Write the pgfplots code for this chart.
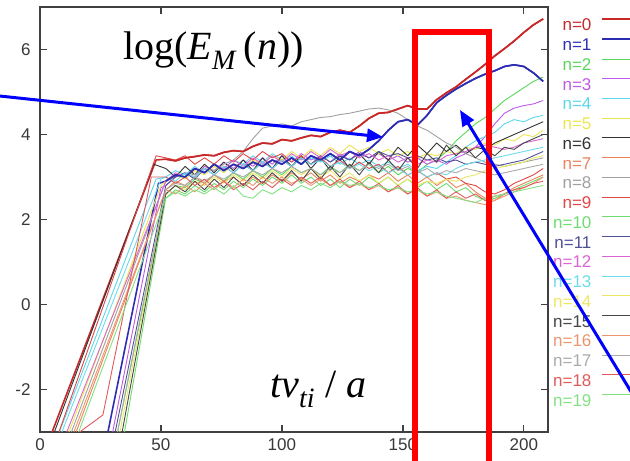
\documentclass[border=0pt]{standalone}
\usepackage{pgfplots}
\pgfplotsset{compat=1.18}
\usepackage{pgfplotstable}
\usepackage{fontspec}
\setmainfont{Liberation Sans}
\newfontfamily\tnr{Liberation Serif}
\usetikzlibrary{arrows.meta}
\definecolor{c0}{RGB}{200,40,40}
\definecolor{c1}{RGB}{45,45,180}
\definecolor{c2}{RGB}{90,215,90}
\definecolor{c3}{RGB}{190,90,230}
\definecolor{c4}{RGB}{90,215,235}
\definecolor{c5}{RGB}{235,230,80}
\definecolor{c6}{RGB}{50,50,50}
\definecolor{c7}{RGB}{235,130,90}
\definecolor{c8}{RGB}{160,160,160}
\definecolor{c9}{RGB}{225,70,70}
\definecolor{c10}{RGB}{110,220,110}
\definecolor{c11}{RGB}{80,80,150}
\definecolor{c12}{RGB}{220,100,210}
\definecolor{c13}{RGB}{110,220,235}
\definecolor{c14}{RGB}{235,230,100}
\definecolor{c15}{RGB}{70,70,70}
\definecolor{c16}{RGB}{235,150,110}
\definecolor{c17}{RGB}{170,170,170}
\definecolor{c18}{RGB}{225,90,90}
\definecolor{c19}{RGB}{130,225,130}
\pgfplotstableread{
x n0 n1 n2 n3 n4 n5 n6 n7 n8 n9 n10 n11 n12 n13 n14 n15 n16 n17 n18 n19
52 3.42 2.9 2.6 2.8 3.0 2.9 3.2 2.7 2.9 3.45 2.5 2.8 2.9 3.0 2.6 2.6 2.7 2.7 3.0 2.5
56 3.38 3.05 2.8 3.0 3.15 3.05 3.0 2.9 3.0 3.4 2.7 3.0 3.1 2.9 2.8 2.8 2.6 2.85 2.85 2.65
60 3.45 3.0 2.75 3.1 3.05 2.95 3.25 2.8 3.1 3.5 2.6 3.1 3.0 3.1 2.7 2.65 2.8 2.8 3.0 2.55
64 3.48 3.2 2.95 3.0 3.25 3.15 3.05 3.0 3.05 3.3 2.8 2.95 3.2 3.0 2.9 2.9 2.65 3.0 2.8 2.7
68 3.52 3.1 2.85 3.25 3.1 3.05 3.3 2.85 3.2 3.45 2.65 3.2 3.1 3.2 2.8 2.7 2.85 2.9 2.95 2.6
72 3.5 3.3 3.05 3.15 3.3 3.25 3.1 3.05 3.15 3.3 2.85 3.05 3.3 3.05 3.0 2.95 2.7 3.05 2.75 2.75
76 3.58 3.15 2.9 3.35 3.2 3.1 3.35 2.9 3.3 3.5 2.7 3.25 3.2 3.25 2.85 2.75 2.9 2.95 2.9 2.6
80 3.62 3.3 3.1 3.2 3.4 3.3 3.15 3.0 3.4 3.35 2.9 3.1 3.4 3.1 3.05 3.0 2.75 3.1 2.7 2.8
84 3.6 3.2 2.95 3.4 3.3 3.2 3.4 2.8 3.6 3.55 2.75 3.3 3.25 3.3 2.9 2.8 2.95 3.0 2.85 2.55
88 3.72 3.35 3.15 3.25 3.5 3.4 3.15 3.0 3.9 3.4 2.95 3.15 3.45 3.15 3.1 3.05 2.8 3.15 2.7 2.5
92 3.8 3.25 3.0 3.45 3.35 3.3 3.45 2.85 4.15 3.6 2.8 3.35 3.3 3.35 2.95 2.85 3.0 3.05 2.9 2.7
96 3.78 3.4 3.2 3.3 3.55 3.5 3.2 3.05 4.2 3.45 3.0 3.2 3.5 3.2 3.15 3.1 2.85 3.2 2.75 2.6
100 3.88 3.3 3.05 3.5 3.4 3.4 3.5 2.9 4.25 3.55 2.85 3.4 3.35 3.4 3.0 2.9 3.0 3.1 2.95 2.75
104 3.85 3.45 3.25 3.35 3.5 3.6 3.25 3.1 4.2 3.35 3.05 3.25 3.55 3.25 3.2 3.15 2.85 3.25 2.8 2.65
108 3.92 3.3 3.1 3.55 3.3 3.45 3.5 2.95 4.3 3.5 2.85 3.45 3.4 3.45 3.05 2.9 2.95 3.1 3.0 2.8
112 3.98 3.5 3.2 3.4 3.45 3.65 3.2 3.1 4.35 3.3 3.0 3.3 3.6 3.3 3.2 3.2 2.8 3.2 2.85 2.7
116 3.95 3.4 3.05 3.5 3.35 3.5 3.45 2.9 4.4 3.45 2.8 3.5 3.45 3.4 3.0 2.95 2.95 3.05 3.0 2.85
120 4.05 3.55 3.25 3.35 3.5 3.7 3.15 3.05 4.42 3.25 2.95 3.35 3.65 3.25 3.15 3.25 2.8 3.2 2.8 2.75
124 4.1 3.4 3.1 3.55 3.3 3.55 3.5 2.85 4.47 3.4 2.75 3.5 3.5 3.35 2.95 3.0 2.9 3.1 2.95 2.9
128 4.05 3.6 3.3 3.4 3.45 3.75 3.2 3.0 4.5 3.2 2.95 3.4 3.6 3.2 3.1 3.3 2.75 3.25 2.75 2.8
132 4.2 3.5 3.15 3.6 3.3 3.6 3.55 2.9 4.55 3.35 2.8 3.55 3.45 3.3 2.9 3.05 2.85 3.15 2.9 2.85
136 4.38 3.65 3.3 3.45 3.4 3.7 3.3 3.05 4.6 3.2 3.0 3.45 3.55 3.15 3.05 3.35 2.7 3.3 2.7 2.75
140 4.5 3.85 3.1 3.55 3.25 3.55 3.6 2.95 4.62 3.3 2.85 3.6 3.4 3.25 2.85 3.1 2.8 3.2 2.85 2.8
144 4.52 4.1 3.25 3.4 3.35 3.65 3.4 3.1 4.58 3.1 3.0 3.5 3.5 3.1 3.0 3.4 2.65 3.3 2.65 2.7
148 4.6 4.3 3.05 3.5 3.2 3.5 3.7 2.9 4.5 3.25 2.8 3.55 3.35 3.2 2.8 3.15 2.75 3.15 2.8 2.75
152 4.68 4.35 3.2 3.35 3.3 3.6 3.5 3.05 4.35 3.05 2.95 3.45 3.45 3.05 2.95 3.45 2.6 3.25 2.6 2.65
156 4.6 4.22 3.1 3.45 3.15 3.45 3.75 2.85 4.2 3.15 2.75 3.5 3.3 3.15 2.8 3.2 2.7 3.1 2.75 2.7
160 4.6 4.45 3.3 3.3 3.25 3.55 3.55 3.0 4.1 3.0 2.9 3.4 3.4 3.0 2.9 3.55 2.55 3.2 2.55 2.6
164 4.82 4.75 3.4 3.4 3.2 3.5 3.8 2.8 3.95 3.1 2.7 3.45 3.35 3.1 2.85 3.35 2.65 3.05 2.7 2.65
168 4.98 4.92 3.6 3.3 3.35 3.6 3.6 2.95 3.8 2.95 2.85 3.35 3.5 3.05 2.95 3.75 2.5 3.15 2.5 2.55
172 5.12 5.07 3.85 3.45 3.5 3.55 3.75 2.75 3.7 3.0 2.65 3.4 3.55 3.2 2.9 3.5 2.55 3.1 2.65 2.5
176 5.3 5.2 4.05 3.55 3.7 3.7 3.55 2.85 3.55 2.85 2.75 3.3 3.6 3.3 3.0 3.7 2.45 3.2 2.5 2.45
180 5.47 5.32 4.25 3.7 3.85 3.65 3.7 2.65 3.45 2.8 2.55 3.35 3.7 3.35 3.05 3.45 2.4 3.15 2.6 2.4
184 5.65 5.42 4.4 3.95 3.95 3.8 3.65 2.5 3.35 2.65 2.45 3.3 3.75 3.4 3.15 3.65 2.35 3.1 2.45 2.5
188 5.85 5.5 4.6 4.25 4.05 3.75 3.8 2.45 3.3 2.6 2.5 3.25 3.7 3.45 3.2 3.5 2.45 3.05 2.55 2.55
192 6.02 5.6 4.8 4.5 4.25 3.9 3.9 2.6 3.25 2.7 2.6 3.3 3.65 3.5 3.25 3.7 2.55 3.1 2.6 2.6
196 6.2 5.64 4.95 4.62 4.35 3.85 4.0 2.75 3.3 2.85 2.7 3.35 3.7 3.55 3.3 3.65 2.65 3.15 2.7 2.65
200 6.4 5.6 5.1 4.68 4.3 4.0 4.1 2.85 3.35 2.95 2.8 3.4 3.8 3.6 3.35 3.8 2.75 3.2 2.75 2.7
204 6.58 5.45 5.25 4.72 4.4 3.95 4.2 2.95 3.4 3.05 2.9 3.5 3.85 3.65 3.45 3.9 2.85 3.25 2.85 2.75
208 6.72 5.25 5.35 4.8 4.45 4.1 4.3 3.05 3.45 3.2 3.0 3.6 3.9 3.7 3.5 4.0 3.0 3.3 2.9 2.8
}\plat
\begin{document}
\begin{tikzpicture}
\useasboundingbox (0pt,0pt) rectangle (630pt,461pt);
\clip (0pt,0pt) rectangle (630pt,461pt);
\begin{axis}[
  at={(40pt,29pt)}, anchor=south west,
  width=508pt, height=425pt, scale only axis,
  xmin=0, xmax=210, ymin=-3, ymax=7,
  xtick={0,50,100,150,200}, ytick={-2,0,2,4,6},
  tick align=inside, major tick length=7pt,
  axis line style={draw=black!75, line width=1.3pt},
  every tick/.append style={black!75, line width=1.3pt},
  /pgf/number format/assume math mode=true,
  tick label style={font=\fontsize{17}{17}\selectfont, text=black!78},
  xticklabel style={yshift=-3pt},
  yticklabel style={xshift=-6pt},
  every axis plot/.append style={line width=0.9pt, line join=round},
  legend plot pos=right,
  legend image code/.code={\draw[#1] (0pt,5.75pt) -- (45pt,5.75pt);},
  legend style={at={(1.1969,0.9734)}, anchor=north east, draw=none, fill=none,
    inner sep=0pt, outer sep=0pt, /tikz/column sep=10pt, /tikz/row sep=7.8pt,
    nodes={inner sep=0pt, text height=11.5pt, text depth=0pt},
    font=\fontsize{17}{17}\selectfont, cells={anchor=east}},
]
% rising parts
\addplot[c0, line width=1.6pt, forget plot] coordinates {(3,-3.3)(48,3.4)(52,3.42)};
\addplot[c1, line width=1.6pt, forget plot] coordinates {(27,-3.3)(49,2.85)(52,2.9)};
\addplot[c2, forget plot] coordinates {(31,-3.3)(52,2.6)};
\addplot[c3, forget plot] coordinates {(29,-3.3)(50,2.75)(52,2.8)};
\addplot[c4, forget plot] coordinates {(6,-3.3)(48,2.95)(52,3.0)};
\addplot[c5, forget plot] coordinates {(10,-3.3)(50,2.8)(52,2.9)};
\addplot[c6, forget plot] coordinates {(4,-3.3)(47,3.3)(52,3.2)};
\addplot[c7, forget plot] coordinates {(13,-3.3)(52,2.7)};
\addplot[c8, forget plot] coordinates {(11,-3.3)(52,2.9)};
\addplot[c9, forget plot] coordinates {(6,-3.3)(48,3.5)(52,3.45)};
\addplot[c10, forget plot] coordinates {(34,-3.3)(52,2.5)};
\addplot[c11, forget plot] coordinates {(30,-3.3)(52,2.8)};
\addplot[c12, forget plot] coordinates {(9,-3.3)(52,2.9)};
\addplot[c13, forget plot] coordinates {(7,-3.3)(50,2.95)(52,3.0)};
\addplot[c14, forget plot] coordinates {(32,-3.3)(52,2.6)};
\addplot[c15, forget plot] coordinates {(33,-3.3)(52,2.6)};
\addplot[c16, forget plot] coordinates {(12,-3.3)(52,2.7)};
\addplot[c17, forget plot] coordinates {(31,-3.3)(52,2.7)};
\addplot[c18, forget plot] coordinates {(14,-3.1)(26,-2.6)(46,3.0)(52,3.0)};
\addplot[c19, forget plot] coordinates {(14,-3.3)(52,2.5)};
% plateau parts
\addplot[c0, line width=1.6pt] table[x=x,y=n0]{\plat}; \addlegendentry{\textcolor{c0}{n=0}}
\addplot[c1, line width=1.6pt] table[x=x,y=n1]{\plat}; \addlegendentry{\textcolor{c1}{n=1}}
\addplot[c2] table[x=x,y=n2]{\plat}; \addlegendentry{\textcolor{c2}{n=2}}
\addplot[c3] table[x=x,y=n3]{\plat}; \addlegendentry{\textcolor{c3}{n=3}}
\addplot[c4] table[x=x,y=n4]{\plat}; \addlegendentry{\textcolor{c4}{n=4}}
\addplot[c5] table[x=x,y=n5]{\plat}; \addlegendentry{\textcolor{c5}{n=5}}
\addplot[c6] table[x=x,y=n6]{\plat}; \addlegendentry{\textcolor{c6}{n=6}}
\addplot[c7] table[x=x,y=n7]{\plat}; \addlegendentry{\textcolor{c7}{n=7}}
\addplot[c8] table[x=x,y=n8]{\plat}; \addlegendentry{\textcolor{c8}{n=8}}
\addplot[c9] table[x=x,y=n9]{\plat}; \addlegendentry{\textcolor{c9}{n=9}}
\addplot[c10] table[x=x,y=n10]{\plat}; \addlegendentry{\textcolor{c10}{n=10}}
\addplot[c11] table[x=x,y=n11]{\plat}; \addlegendentry{\textcolor{c11}{n=11}}
\addplot[c12] table[x=x,y=n12]{\plat}; \addlegendentry{\textcolor{c12}{n=12}}
\addplot[c13] table[x=x,y=n13]{\plat}; \addlegendentry{\textcolor{c13}{n=13}}
\addplot[c14] table[x=x,y=n14]{\plat}; \addlegendentry{\textcolor{c14}{n=14}}
\addplot[c15] table[x=x,y=n15]{\plat}; \addlegendentry{\textcolor{c15}{n=15}}
\addplot[c16] table[x=x,y=n16]{\plat}; \addlegendentry{\textcolor{c16}{n=16}}
\addplot[c17] table[x=x,y=n17]{\plat}; \addlegendentry{\textcolor{c17}{n=17}}
\addplot[c18] table[x=x,y=n18]{\plat}; \addlegendentry{\textcolor{c18}{n=18}}
\addplot[c19] table[x=x,y=n19]{\plat}; \addlegendentry{\textcolor{c19}{n=19}}
% redraw the two highlighted series on top
\addplot[c1, line width=1.6pt, forget plot] table[x=x,y=n1]{\plat};
\addplot[c0, line width=1.6pt, forget plot] table[x=x,y=n0]{\plat};
\end{axis}
\draw[red, line width=6pt] (415pt,428.5pt) rectangle (489pt,-30pt);
\draw[blue, line width=3pt, -{Triangle[length=16pt,width=13pt]}] (-5pt,365.5pt) -- (383pt,324pt);
\draw[blue, line width=3pt, -{Triangle[length=16pt,width=13pt]}] (640pt,54.5pt) -- (460pt,351pt);
\node[anchor=base west, inner sep=0pt] at (123pt,401pt)
  {\tnr\fontsize{40}{40}\selectfont log(\textit{E}\textsubscript{\textit{M}}\,(\textit{n}))};
\node[anchor=base west, inner sep=0pt] at (270pt,63pt)
  {\tnr\fontsize{40}{40}\selectfont\itshape tv\textsubscript{ti} \upshape/ \itshape a};
\end{tikzpicture}
\end{document}
